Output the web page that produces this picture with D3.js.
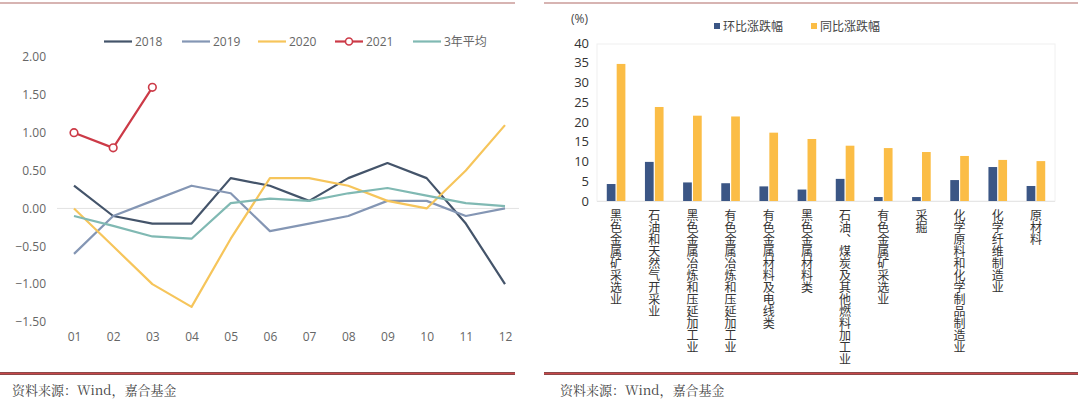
<!DOCTYPE html>
<html>
<head>
<meta charset="utf-8">
<script src="https://cdn.jsdelivr.net/npm/d3@7"></script>
<style>
  body { margin: 0; background: #fff; }
  svg { display: block; font-family: "Noto Sans CJK SC", "Noto Sans", sans-serif; }
</style>
</head>
<body>
<svg width="1080" height="403"></svg>
<script>
// left chart data
const months = ["01", "02", "03", "04", "05", "06", "07", "08", "09", "10", "11", "12"];
const y2018 = [0.30, -0.10, -0.20, -0.20, 0.40, 0.30, 0.10, 0.40, 0.60, 0.40, -0.20, -1.00];
const y2019 = [-0.60, -0.10, 0.10, 0.30, 0.20, -0.30, -0.20, -0.10, 0.10, 0.10, -0.10, 0.00];
const y2020 = [0.00, -0.50, -1.00, -1.30, -0.40, 0.40, 0.40, 0.30, 0.10, 0.00, 0.50, 1.10];
const y2021 = [1.00, 0.80, 1.60];
const avg3 = [-0.10, -0.23, -0.37, -0.40, 0.07, 0.13, 0.10, 0.20, 0.27, 0.17, 0.07, 0.03];
const leftTicks = [2.0, 1.5, 1.0, 0.5, 0.0, -0.5, -1.0, -1.5];

// right chart data
const industries = ["黑色金属矿采选业", "石油和天然气开采业", "黑色金属冶炼和压延加工业", "有色金属冶炼和压延加工业",
  "有色金属材料及电线类", "黑色金属材料类", "石油、煤炭及其他燃料加工业", "有色金属矿采选业", "采掘",
  "化学原料和化学制品制造业", "化学纤维制造业", "原材料"];
const mom = [4.3, 9.9, 4.7, 4.5, 3.7, 2.9, 5.6, 1.0, 1.0, 5.3, 8.6, 3.8];
const yoy = [34.7, 23.8, 21.6, 21.4, 17.3, 15.7, 14.0, 13.4, 12.4, 11.4, 10.4, 10.1];
const rightTicks = [0, 5, 10, 15, 20, 25, 30, 35, 40];

const svg = d3.select("svg");

// frame lines
[[0, 515], [544, 1078]].forEach(([a, b]) => {
  svg.append("line").attr("x1", a).attr("x2", b).attr("y1", 3).attr("y2", 3)
    .attr("stroke", "#b06a66").attr("stroke-width", 1.2);
  svg.append("line").attr("x1", a).attr("x2", b).attr("y1", 373.5).attr("y2", 373.5)
    .attr("stroke", "#7a4a4a").attr("stroke-width", 3);
  svg.append("line").attr("x1", a).attr("x2", b).attr("y1", 373.5).attr("y2", 373.5)
    .attr("stroke", "#c8474a").attr("stroke-width", 1.4);
});
[12, 560].forEach(x => {
  svg.append("text").attr("x", x).attr("y", 395)
    .attr("font-size", 13).attr("fill", "#444")
    .attr("font-family", "'Noto Serif CJK SC', 'Noto Sans CJK SC', serif")
    .text("资料来源：Wind，嘉合基金");
});

// ---------- left line chart ----------
const x = d3.scalePoint().domain(months).range([74, 505]);
const y = d3.scaleLinear().domain([-1.5, 2.0]).range([322, 57]);

const left = svg.append("g");

left.append("line").attr("x1", 57).attr("x2", 519)
  .attr("y1", y(0)).attr("y2", y(0))
  .attr("stroke", "#e2e2e2").attr("stroke-width", 1);

const yAxisL = left.append("g").attr("transform", "translate(46,0)")
  .call(d3.axisLeft(y).tickValues(leftTicks).tickFormat(d3.format(".2f")).tickSize(0).tickPadding(0));
yAxisL.select(".domain").remove();
yAxisL.selectAll("text").attr("font-size", 12).attr("fill", "#666")
  .attr("font-family", "'Open Sans', 'Noto Sans', sans-serif");

const xAxisL = left.append("g").attr("transform", "translate(0,332)")
  .call(d3.axisBottom(x).tickSize(0).tickPadding(0));
xAxisL.select(".domain").remove();
xAxisL.selectAll("text").attr("font-size", 12).attr("fill", "#666")
  .attr("font-family", "'Open Sans', 'Noto Sans', sans-serif");

const series = [
  { name: "2018", values: y2018, color: "#44546a" },
  { name: "2019", values: y2019, color: "#8496b4" },
  { name: "2020", values: y2020, color: "#f6c55b" },
  { name: "3年平均", values: avg3, color: "#80b9b3" },
  { name: "2021", values: y2021, color: "#cc3a47", marker: true }
];

const line = d3.line().x((d, i) => x(months[i])).y(d => y(d));

series.forEach(s => {
  left.append("path").datum(s.values)
    .attr("d", line).attr("fill", "none")
    .attr("stroke", s.color).attr("stroke-width", 2.2)
    .attr("stroke-linejoin", "round");
  if (s.marker) {
    left.selectAll(null).data(s.values).enter().append("circle")
      .attr("cx", (d, i) => x(months[i])).attr("cy", d => y(d))
      .attr("r", 3.8).attr("fill", "#fff")
      .attr("stroke", s.color).attr("stroke-width", 1.6);
  }
});

// legend
const legendL = [
  { name: "2018", color: "#44546a", x: 104 },
  { name: "2019", color: "#8496b4", x: 182 },
  { name: "2020", color: "#f6c55b", x: 258 },
  { name: "2021", color: "#cc3a47", x: 335, marker: true },
  { name: "3年平均", color: "#80b9b3", x: 413 }
];
legendL.forEach(l => {
  left.append("line").attr("x1", l.x).attr("x2", l.x + 28)
    .attr("y1", 41.5).attr("y2", 41.5)
    .attr("stroke", l.color).attr("stroke-width", 2.2);
  if (l.marker) {
    left.append("circle").attr("cx", l.x + 14).attr("cy", 41.5).attr("r", 3.5)
      .attr("fill", "#fff").attr("stroke", l.color).attr("stroke-width", 1.6);
  }
  left.append("text").attr("x", l.x + 31).attr("y", 46)
    .attr("font-size", 12).attr("fill", "#666")
    .attr("font-family", "'Open Sans', 'Noto Sans CJK SC', sans-serif")
    .text(l.name);
});

// ---------- right bar chart ----------
const right = svg.append("g");
const x0 = d3.scaleBand().domain(industries).range([597, 1055])
  .paddingInner(0.45).paddingOuter(0.225);
const x1 = d3.scaleBand().domain(["mom", "yoy"]).range([0, x0.bandwidth()]).padding(0.12);
const yR = d3.scaleLinear().domain([0, 40]).range([201, 43]);

right.append("rect").attr("x", 597).attr("y", 44).attr("width", 458).attr("height", 157)
  .attr("fill", "none").attr("stroke", "#f0f0f0");
right.append("line").attr("x1", 597).attr("x2", 1055).attr("y1", 201.5).attr("y2", 201.5)
  .attr("stroke", "#e6e6e6");

const yAxisR = right.append("g").attr("transform", "translate(589,0)")
  .call(d3.axisLeft(yR).tickValues(rightTicks).tickSize(0).tickPadding(0));
yAxisR.select(".domain").remove();
yAxisR.selectAll("text").attr("font-size", 13).attr("fill", "#333")
  .attr("font-family", "'Open Sans', 'Noto Sans', sans-serif");

right.append("text").attr("x", 571).attr("y", 23)
  .attr("font-size", 12).attr("fill", "#444")
  .attr("font-family", "'Open Sans', 'Noto Sans', sans-serif")
  .text("(%)");

const barColor = { mom: "#3b5685", yoy: "#fbbd46" };
const groups = right.selectAll("g.ind").data(industries).enter().append("g")
  .attr("class", "ind")
  .attr("transform", d => `translate(${x0(d)},0)`);

groups.selectAll("rect")
  .data((d, i) => [{ key: "mom", value: mom[i] }, { key: "yoy", value: yoy[i] }])
  .enter().append("rect")
  .attr("x", d => x1(d.key))
  .attr("y", d => yR(d.value))
  .attr("width", x1.bandwidth())
  .attr("height", d => yR(0) - yR(d.value))
  .attr("fill", d => barColor[d.key]);

// vertical category labels
right.selectAll("text.cat").data(industries).enter().append("text")
  .attr("class", "cat")
  .attr("x", d => x0(d) + x0.bandwidth() / 2)
  .attr("y", 209)
  .style("writing-mode", "vertical-rl")
  .attr("font-size", 12).attr("fill", "#333")
  .text(d => d);

// legend
[{ name: "环比涨跌幅", color: barColor.mom, x: 714 }, { name: "同比涨跌幅", color: barColor.yoy, x: 811 }]
  .forEach(l => {
    right.append("rect").attr("x", l.x).attr("y", 23).attr("width", 6).attr("height", 6)
      .attr("fill", l.color);
    right.append("text").attr("x", l.x + 9).attr("y", 31)
      .attr("font-size", 12).attr("fill", "#444").text(l.name);
  });
</script>
</body>
</html>
